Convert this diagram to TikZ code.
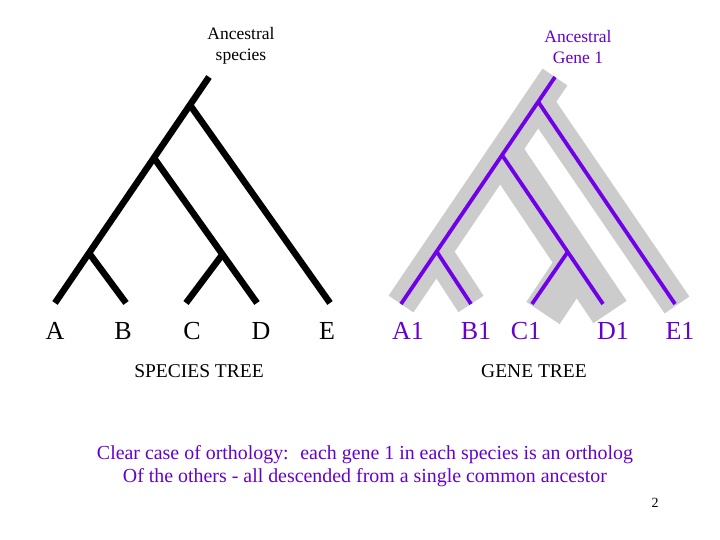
\documentclass[tikz,border=0pt]{standalone}
\usepackage{fontspec}
\setmainfont{Liberation Serif}
\usetikzlibrary{positioning}

\definecolor{genepurple}{RGB}{112,0,230}
\definecolor{textpurple}{RGB}{102,0,204}
\definecolor{shadowgray}{RGB}{204,204,204}

\begin{document}
\begin{tikzpicture}[x=1pt,y=-1pt,
    species/.style={black, line width=6.5pt},
    gene/.style={genepurple, line width=3.8pt},
    shadow/.style={shadowgray, line width=30pt},
    leaf/.style={inner sep=0pt, font=\fontsize{26}{28}\selectfont},
    heading/.style={inner sep=0pt, align=center, font=\fontsize{17.5}{21}\selectfont},
    caption/.style={inner sep=0pt, font=\fontsize{19.5}{22}\selectfont}]
      \useasboundingbox (0,0) rectangle (720,540);

      % Define species tree coordinates
      \coordinate (sR) at (209,77);
      \coordinate (s1) at (190,105);
      \coordinate (s2) at (154,158);
      \coordinate (sAB) at (89,253);
      \coordinate (sCD) at (222,255);
      \coordinate (sA) at (55,303);
      \coordinate (sB) at (126,303);
      \coordinate (sC) at (186,303);
      \coordinate (sD) at (257,303);
      \coordinate (sE) at (330,303);

      % Draw the species tree
      \draw[species] (sR) -- (sA);
      \draw[species] (s1) -- (sE);
      \draw[species] (s2) -- (sD);
      \draw[species] (sAB) -- (sB);
      \draw[species] (sCD) -- (sC);

      % Define gene tree coordinates
      \coordinate (gR) at (555,77);
      \coordinate (g1) at (539,103);
      \coordinate (g2) at (502,155);
      \coordinate (gAB) at (437,252);
      \coordinate (gCD) at (567,253);
      \coordinate (gA) at (401,304);
      \coordinate (gB) at (471,304);
      \coordinate (gC) at (532,304);
      \coordinate (gD) at (603,304);
      \coordinate (gE) at (675,304);

      % Grey species outline behind the gene tree
      \coordinate (hE) at (677,305);
      \coordinate (hCtop) at (583,253);
      \coordinate (hC) at (543,313);
      \coordinate (hDtop) at (501,150);
      \coordinate (hD) at (610,312);
      \draw[shadow] (gR) -- (gA);
      \draw[shadow] (g1) -- (hE);
      \draw[shadow] (gAB) -- (gB);
      \draw[shadow, line width=40pt] (hDtop) -- (hD);
      \draw[shadow, line width=40pt] (hCtop) -- (hC);

      % Draw the gene tree
      \draw[gene] (gR) -- (gA);
      \draw[gene] (g1) -- (gE);
      \draw[gene] (g2) -- (gD);
      \draw[gene] (gAB) -- (gB);
      \draw[gene] (gCD) -- (gC);

      % Label the leaves
      \node[leaf] (lA) at (55,331) {A};
      \node[leaf] (lB) at (123,331) {B};
      \node[leaf] (lC) at (192,331) {C};
      \node[leaf] (lD) at (261,331) {D};
      \node[leaf] (lE) at (327,331) {E};
      \node[leaf, textpurple] (lA1) at (408,331) {A1};
      \node[leaf, textpurple] (lB1) at (476,331) {B1};
      \node[leaf, textpurple] (lC1) at (526,331) {C1};
      \node[leaf, textpurple] (lD1) at (613,331) {D1};
      \node[leaf, textpurple] (lE1) at (680,331) {E1};

      % Headings and captions
      \node[heading] (sHead) at (241,46) {Ancestral\\species};
      \node[heading, textpurple] (gHead) at (578,47) {Ancestral\\Gene 1};
      \node[caption] (sCap) at (199,371) {SPECIES TREE};
      \node[caption] (gCap) at (534,371) {GENE TREE};
      \node[inner sep=0pt, align=center, textpurple, font=\fontsize{19.9}{23.5}\selectfont] (note) at (365,466)
        {Clear case of orthology:~ each gene 1 in each species is an ortholog\\Of the others - all descended from a single common ancestor};
      \node[inner sep=0pt, font=\fontsize{14}{16}\selectfont] (page) at (655,503) {2};
    \end{tikzpicture}
\end{document}
